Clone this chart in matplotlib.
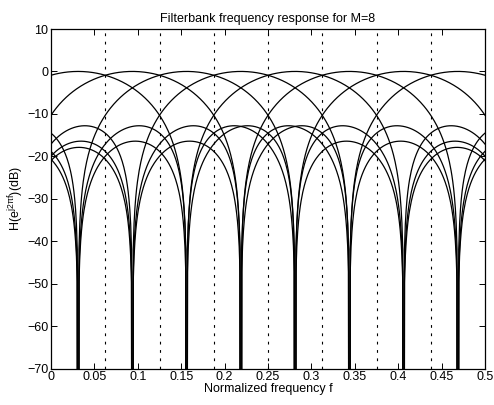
import numpy as np
import matplotlib
matplotlib.use("Agg")
import matplotlib.pyplot as plt

# ------------------------------------------------------------
# Data: M=8 filterbank, length-8 boxcar prototype modulated to
# band centres (odd multiples of 1/32)
# ------------------------------------------------------------
M = 8
prototype = [1 / 8, 1 / 8, 1 / 8, 1 / 8, 1 / 8, 1 / 8, 1 / 8, 1 / 8]
centres = [1 / 32, 3 / 32, 5 / 32, 7 / 32, 9 / 32, 11 / 32, 13 / 32, 15 / 32]
band_edges = [1 / 16, 2 / 16, 3 / 16, 4 / 16, 5 / 16, 6 / 16, 7 / 16]

x_ticks = [0, 0.05, 0.1, 0.15, 0.2, 0.25, 0.3, 0.35, 0.4, 0.45, 0.5]
x_labels = ["0", "0.05", "0.1", "0.15", "0.2", "0.25", "0.3", "0.35", "0.4", "0.45", "0.5"]
y_ticks = [-70, -60, -50, -40, -30, -20, -10, 0, 10]

NFFT = 1024

# ------------------------------------------------------------
# Frequency responses
# ------------------------------------------------------------
n = np.arange(M)
f = np.arange(NFFT // 2 + 1) / NFFT
h0 = np.array(prototype)

responses = []
for fc in centres:
    hk = h0 * np.exp(2j * np.pi * fc * n)
    H = np.fft.fft(hk, NFFT)[: NFFT // 2 + 1]
    responses.append(20 * np.log10(np.abs(H) + 1e-300))

# ------------------------------------------------------------
# Plot
# ------------------------------------------------------------
plt.rcParams["font.family"] = ["Liberation Sans", "DejaVu Sans"]
plt.rcParams["mathtext.default"] = "regular"

fig = plt.figure(figsize=(4.94, 4.05), dpi=100)
ax = fig.add_axes([51 / 494, 1 - 368.5 / 405, 434 / 494, 339.5 / 405])

for r in responses:
    ax.plot(f, r, color="black", linewidth=0.9)

for e in band_edges:
    ax.axvline(e, color="black", linewidth=0.8, linestyle=(0, (2.5, 5)))

ax.set_xlim(0, 0.5)
ax.set_ylim(-70, 10)
ax.set_xticks(x_ticks)
ax.set_xticklabels(x_labels)
ax.set_yticks(y_ticks)
ax.set_yticklabels([str(v).replace("-", "\u2212") for v in y_ticks])

ax.tick_params(direction="in", top=True, right=True, length=4, width=0.7,
               labelsize=9, pad=2, colors="black")
for s in ax.spines.values():
    s.set_linewidth(0.9)

ax.set_title("Filterbank frequency response for M=8", fontsize=9, pad=5)
ax.set_xlabel("Normalized frequency f", fontsize=9, labelpad=0)
ax.set_ylabel(r"H(e$^{j2\pi f}$)(dB)", fontsize=9, labelpad=1)

fig.savefig("out.png", dpi=100)
